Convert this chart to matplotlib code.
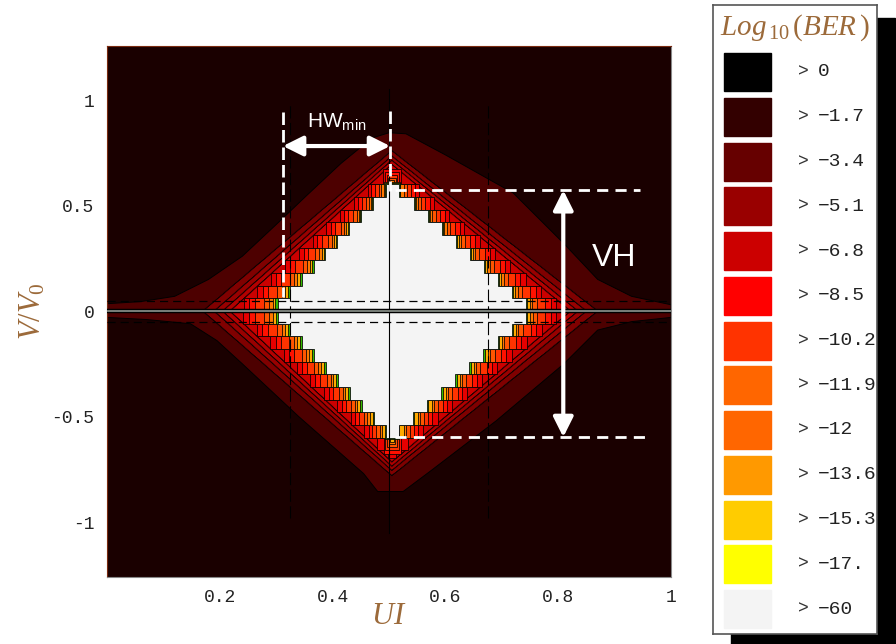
import matplotlib.pyplot as plt
import numpy as np
from matplotlib.patches import Rectangle

plt.rcParams['mathtext.fontset'] = 'custom'
plt.rcParams['mathtext.it'] = 'Liberation Serif:italic'
plt.rcParams['mathtext.rm'] = 'Liberation Serif'
plt.rcParams['mathtext.sf'] = 'Liberation Sans'

# legend: BER levels and their colours
ber_levels = ['0', '−1.7', '−3.4', '−5.1', '−6.8', '−8.5', '−10.2', '−11.9',
              '−12', '−13.6', '−15.3', '−17.', '−60']
level_colors = ['#000000', '#330000', '#660000', '#990000', '#cc0000', '#ff0000',
                '#ff3300', '#ff6600', '#ff6600', '#ff9900', '#ffcc00', '#ffff00',
                '#f4f4f4']

# outer contour (bell shape)
bell_top_x = [0, 0.06, 0.12, 0.18, 0.24, 0.30, 0.355, 0.415, 0.47, 0.50, 0.53, 0.60, 0.72, 0.81, 0.87, 0.93, 1.0]
bell_top_y = [0.035, 0.045, 0.07, 0.15, 0.26, 0.41, 0.55, 0.70, 0.82, 0.845, 0.84, 0.74, 0.56, 0.32, 0.15, 0.07, 0.03]
bell_bot_x = [0, 0.07, 0.148, 0.195, 0.24, 0.34, 0.455, 0.48, 0.525, 0.575, 0.69, 0.81, 0.87, 0.93, 1.0]
bell_bot_y = [-0.03, -0.04, -0.06, -0.14, -0.25, -0.50, -0.77, -0.855, -0.855, -0.755, -0.52, -0.25, -0.09, -0.05, -0.03]

# inner contours (eye): apex heights and feet on the y=0 line
eye_top = [0.76, 0.735, 0.715, 0.695, 0.675, 0.66, 0.645, 0.632, 0.62, 0.612, 0.607, 0.603]
eye_bot = [-0.78, -0.755, -0.735, -0.715, -0.695, -0.675, -0.66, -0.645, -0.63, -0.62, -0.605, -0.60]
eye_left = [0.17, 0.19, 0.205, 0.218, 0.23, 0.24, 0.25, 0.268, 0.277, 0.283, 0.288, 0.292]
eye_right = [0.87, 0.85, 0.835, 0.822, 0.81, 0.80, 0.79, 0.775, 0.767, 0.762, 0.758, 0.755]
eye_colors = ['#800000', '#990000', '#b30000', '#cc0000', '#e60000', '#ff1100',
              '#ff3300', '#ff5500', '#ff7700', '#ffaa00', '#33bb00', '#f4f4f4']
eye_center = 0.505

x_ticks = [0.2, 0.4, 0.6, 0.8, 1]
x_ticklabels = ['0.2', '0.4', '0.6', '0.8', '1']
y_ticks = [-1, -0.5, 0, 0.5, 1]
y_ticklabels = ['-1', '-0.5', '0', '0.5', '1']

# annotation values
hw_left, hw_right, hw_level = 0.312, 0.502, 0.782
vh_x, vh_top, vh_bot = 0.809, 0.573, -0.597

brown = '#9c6a3a'
mono = 'Liberation Mono'


def rows(apex, dy):
    step = dy if apex > 0 else -dy
    edges = np.append(np.arange(0, apex, step), apex)
    if len(edges) > 2 and abs(edges[-1] - edges[-2]) < dy * 0.3:
        edges = np.delete(edges, -2)
    frac = 1 - np.abs(edges[:-1] + edges[1:]) / 2 / abs(apex)
    return edges, frac


def band_outline(top, bot, left, right, dy, cx):
    eu, fu = rows(top, dy)
    el, fl = rows(bot, dy)
    xs, ys = [], []
    for k in range(len(fu) - 1, -1, -1):
        xs += [cx + (right - cx) * fu[k]] * 2
        ys += [eu[k + 1], eu[k]]
    for k in range(len(fl)):
        xs += [cx + (right - cx) * fl[k]] * 2
        ys += [el[k], el[k + 1]]
    for k in range(len(fl) - 1, -1, -1):
        xs += [cx - (cx - left) * fl[k]] * 2
        ys += [el[k + 1], el[k]]
    for k in range(len(fu)):
        xs += [cx - (cx - left) * fu[k]] * 2
        ys += [eu[k], eu[k + 1]]
    return xs, ys


fig = plt.figure(figsize=(8.96, 6.44), dpi=100)
ax = fig.add_axes([107 / 896, 1 - 577 / 644, 564 / 896, 531 / 644])
ax.set_facecolor('#1a0000')
ax.set_xlim(0, 1)
ax.set_ylim(-1.26, 1.256)

# bell
bx = bell_top_x + bell_bot_x[::-1]
by = bell_top_y + bell_bot_y[::-1]
ax.fill(bx, by, color='#4d0000', ec='black', lw=0.7, zorder=1)

# eye contours
for i, col in enumerate(eye_colors):
    dy = 0.005 if i < 4 else 0.06
    xs, ys = band_outline(eye_top[i], eye_bot[i], eye_left[i], eye_right[i], dy, eye_center)
    ax.fill(xs, ys, color=col, ec='black', lw=0.55, zorder=2 + i * 0.01)

# grid / reference lines
ax.plot([0, 1], [0.05, 0.05], color='black', lw=0.9, ls=(0, (6.5, 4)), zorder=5)
ax.plot([0, 1], [-0.05, -0.05], color='black', lw=0.9, ls=(0, (6.5, 4)), zorder=5)
ax.plot([0.325, 0.325], [-0.98, 0.98], color='black', lw=0.8, ls=(0, (11, 4)), zorder=5)
ax.plot([0.675, 0.675], [-0.98, 0.98], color='black', lw=0.8, ls=(0, (11, 4)), zorder=5)
ax.plot([0.5, 0.5], [-1.05, 1.05], color='black', lw=0.8, zorder=5)
ax.plot([0, 1], [0, 0], color='black', lw=3.2, zorder=6, solid_capstyle='butt')
ax.plot([0, 1], [0, 0], color='#9aa39a', lw=1.1, zorder=7, solid_capstyle='butt')

# HW_min annotation
ax.plot([hw_left, hw_left], [0.943, 0.065], color='white', lw=2, ls=(0, (4.5, 1.8)), zorder=8)
ax.plot([hw_right, hw_right], [0.95, 0.57], color='white', lw=2, ls=(0, (4.5, 1.8)), zorder=8)
ax.annotate('', xy=(hw_left, hw_level), xytext=(hw_right, hw_level),
            arrowprops=dict(arrowstyle='<|-|>,head_length=0.8,head_width=0.4',
                            color='white', lw=3, shrinkA=0, shrinkB=0, mutation_scale=15),
            zorder=9)
ax.text((hw_left + hw_right) / 2, 0.872, r'HW$_\mathsf{min}$', color='white',
        fontsize=15, family='Liberation Sans', ha='center', va='baseline', zorder=9)

# VH annotation
ax.plot([0.51, 0.945], [vh_top, vh_top], color='white', lw=2, ls=(0, (4, 2.6)), zorder=8)
ax.plot([0.51, 0.96], [vh_bot, vh_bot], color='white', lw=2, ls=(0, (4, 2.6)), zorder=8)
ax.annotate('', xy=(vh_x, vh_top), xytext=(vh_x, vh_bot),
            arrowprops=dict(arrowstyle='<|-|>,head_length=0.8,head_width=0.4',
                            color='white', lw=3, shrinkA=0, shrinkB=0, mutation_scale=15),
            zorder=9)
ax.text(0.899, 0.251, 'VH', color='white', fontsize=23, family='Liberation Sans',
        ha='center', va='center', zorder=9)

# axes styling
ax.set_xticks(x_ticks)
ax.set_xticklabels(x_ticklabels, family=mono, fontsize=13, color='#222222')
ax.set_yticks(y_ticks)
ax.set_yticklabels(y_ticklabels, family=mono, fontsize=13, color='#222222')
ax.tick_params(length=0, pad=9)
ax.set_xlabel('$UI$', fontsize=22, color=brown, labelpad=-4)
ax.set_ylabel('$V/V_0$', fontsize=22, color=brown, labelpad=3)
for s in ['left', 'top']:
    ax.spines[s].set_color('#7a2a10')
for s in ['right', 'bottom']:
    ax.spines[s].set_color('#888888')
for s in ax.spines.values():
    s.set_linewidth(0.8)

# legend box with shadow
shadow = Rectangle((731 / 896, 1 - 647 / 644), 164 / 896, 629 / 644,
                   transform=fig.transFigure, color='black', zorder=0)
fig.add_artist(shadow)
lax = fig.add_axes([713 / 896, 1 - 634 / 644, 164 / 896, 629 / 644])
lax.set_xlim(0, 164)
lax.set_ylim(629, 0)
lax.set_xticks([])
lax.set_yticks([])
lax.set_facecolor('white')
for s in lax.spines.values():
    s.set_color('#555555')
    s.set_linewidth(1.2)
lax.text(82, 23, r'$Log_{\,10}\,(BER\,)$', fontsize=21, color=brown, ha='center', va='center')
for i, (lev, col) in enumerate(zip(ber_levels, level_colors)):
    yc = 67 + i * 44.75
    lax.add_patch(Rectangle((11, yc - 19), 47, 38, color=col))
    lax.text(90, yc, '>', family=mono, fontsize=13, color='#333333', ha='center', va='center')
    lax.text(105, yc, lev, family=mono, fontsize=14, color='#222222', ha='left', va='center',
             clip_on=True)

fig.savefig('out.png', dpi=100)
